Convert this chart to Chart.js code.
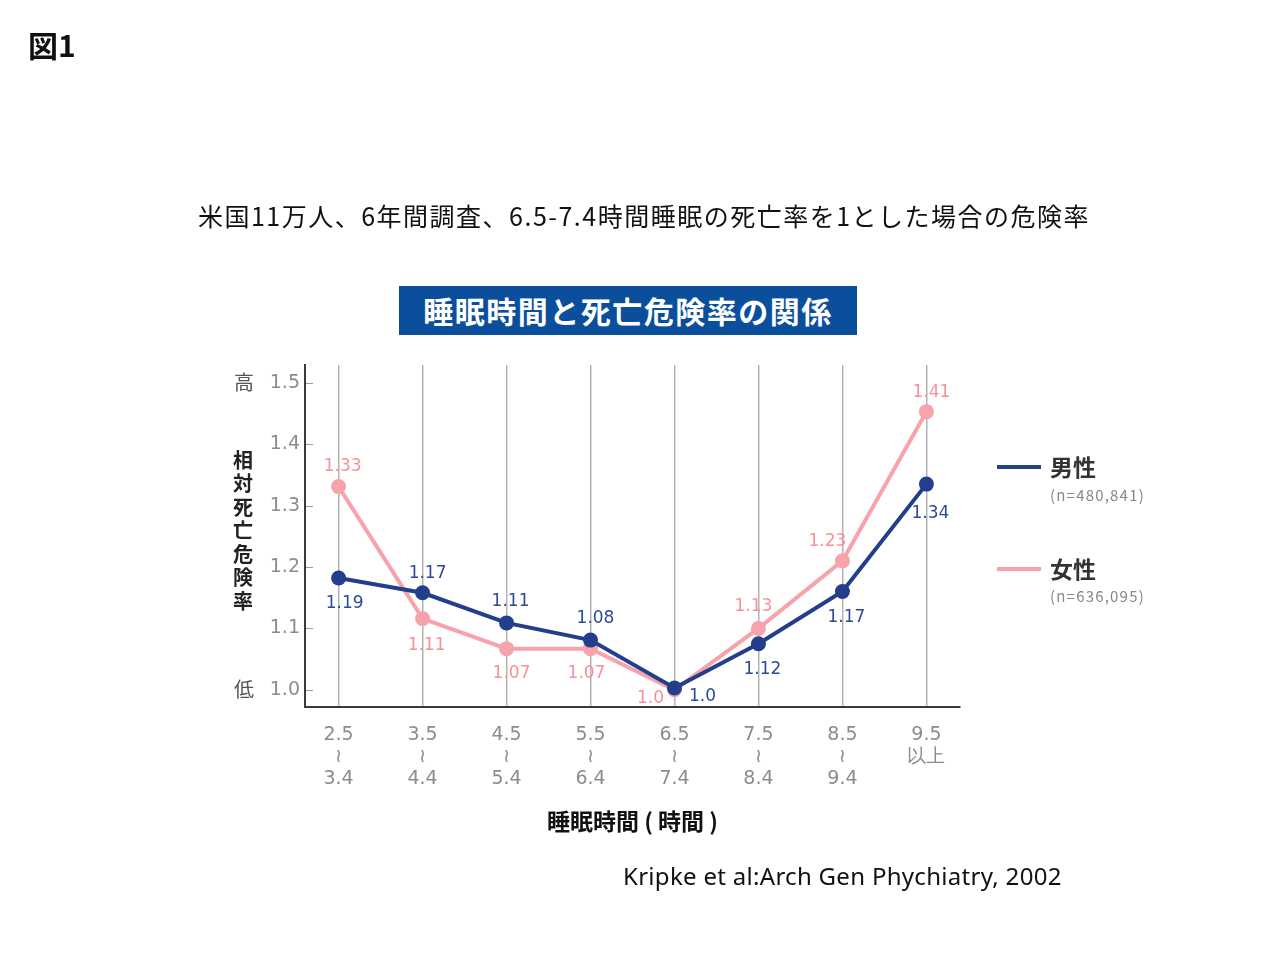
<!DOCTYPE html>
<html lang="ja">
<head>
<meta charset="utf-8">
<script src="https://cdn.jsdelivr.net/npm/chart.js@4.4.1/dist/chart.umd.min.js"></script>
<style>
  html, body { margin: 0; padding: 0; background: #fff; }
  #wrap { position: relative; width: 1280px; height: 960px; overflow: hidden; font-family: "Noto Sans CJK JP", "Noto Sans", sans-serif; }
  #c { position: absolute; left: 0; top: 0; }
  .t { position: absolute; white-space: nowrap; color: #111; }
  #fig { left: 28px; top: 22px; font-size: 30px; font-weight: 700; }
  #sub { left: 0; width: 1288px; text-align: center; top: 197px; font-size: 25px; letter-spacing: 1.5px; }
  #box { left: 399px; top: 286px; width: 458px; height: 49px; background: #0b4f9c; color: #fff; font-size: 30px; font-weight: 700; text-align: center; line-height: 49px; letter-spacing: 1.5px; }
  #src { left: 623px; top: 859px; font-size: 24px; letter-spacing: 0.3px; font-family: "Noto Sans", sans-serif; }
  .lg-line { position: absolute; height: 4px; width: 44px; left: 997px; }
  .lg-name { position: absolute; left: 1050px; font-size: 23px; font-weight: 700; color: #333; }
  .lg-n { position: absolute; left: 1050px; font-size: 15px; letter-spacing: 1.2px; color: #888; }
</style>
</head>
<body>
<div id="wrap">
  <canvas id="c" width="1280" height="960"></canvas>
  <div class="t" id="fig">図1</div>
  <div class="t" id="sub">米国11万人、6年間調査、6.5-7.4時間睡眠の死亡率を1とした場合の危険率</div>
  <div class="t" id="box">睡眠時間と死亡危険率の関係</div>
  <div class="lg-line" style="top:465px;background:#233f8c;"></div>
  <div class="t lg-name" style="top:449px;">男性</div>
  <div class="t lg-n" style="top:484px;">(n=480,841)</div>
  <div class="lg-line" style="top:567px;background:#f7a3ab;"></div>
  <div class="t lg-name" style="top:551px;">女性</div>
  <div class="t lg-n" style="top:585px;">(n=636,095)</div>
  <div class="t" id="src">Kripke et al:Arch Gen Phychiatry, 2002</div>
</div>
<script>
// ---- data ----
const categories = ["2.5\n≀\n3.4", "3.5\n≀\n4.4", "4.5\n≀\n5.4", "5.5\n≀\n6.4", "6.5\n≀\n7.4", "7.5\n≀\n8.4", "8.5\n≀\n9.4", "9.5\n以上"];
const maleValues = [1.182, 1.158, 1.109, 1.081, 1.003, 1.075, 1.160, 1.335];
const femaleValues = [1.331, 1.116, 1.067, 1.067, 1.000, 1.100, 1.210, 1.453];
const maleLabels = ["1.19", "1.17", "1.11", "1.08", "1.0", "1.12", "1.17", "1.34"];
const femaleLabels = ["1.33", "1.11", "1.07", "1.07", "1.0", "1.13", "1.23", "1.41"];
const yTicks = [1.0, 1.1, 1.2, 1.3, 1.4, 1.5];
const seriesNames = ["男性", "女性"];

// ---- styles ----
const NAVY = "#233f8c", PINK = "#f7a3ab";
const NAVY_TXT = "#2c4a96", PINK_TXT = "#f79198";
const NUM_FONT = "'DejaVu Sans'";
const maleOffsets = [[6,26],[5,-19],[4,-21],[5,-21],[28,9],[4,26],[4,26],[4,29]];
const femaleOffsets = [[4,-20],[4,27],[5,25],[-4,25],[-24,9],[-5,-22],[-15,-19],[5,-19]];

const toXY = arr => arr.map((v, i) => ({x: i, y: v}));

const decorPlugin = {
  id: 'decor',
  afterDraw(chart) {
    const ctx = chart.ctx, ys = chart.scales.y, xs = chart.scales.x;
    ctx.save();
    // inward y tick marks
    ctx.strokeStyle = "#9a9a9a"; ctx.lineWidth = 1;
    yTicks.forEach(v => {
      const py = Math.round(ys.getPixelForValue(v)) + 0.5;
      ctx.beginPath(); ctx.moveTo(xs.left + 1, py); ctx.lineTo(xs.left + 8, py); ctx.stroke();
    });
    // 高 / 低
    ctx.fillStyle = "#555"; ctx.font = "20px 'Noto Sans CJK JP'";
    ctx.textAlign = "center"; ctx.textBaseline = "middle";
    ctx.fillText("高", 244, ys.getPixelForValue(1.5));
    ctx.fillText("低", 244, ys.getPixelForValue(1.0));
    // vertical axis title
    ctx.fillStyle = "#222"; ctx.font = "bold 20px 'Noto Sans CJK JP'";
    const title = "相対死亡危険率";
    for (let i = 0; i < title.length; i++) {
      ctx.fillText(title[i], 243, 460 + i * 23.5);
    }
    // data labels
    ctx.font = "17px " + NUM_FONT;
    const drawLabels = (dsIndex, labels, offs, color) => {
      const meta = chart.getDatasetMeta(dsIndex);
      ctx.fillStyle = color;
      meta.data.forEach((pt, i) => {
        ctx.fillText(labels[i], pt.x + offs[i][0], pt.y + offs[i][1]);
      });
    };
    drawLabels(1, femaleLabels, femaleOffsets, PINK_TXT);
    drawLabels(0, maleLabels, maleOffsets, NAVY_TXT);
    ctx.restore();
  }
};

new Chart(document.getElementById('c'), {
  type: 'line',
  data: {
    datasets: [
      { label: seriesNames[0], data: toXY(maleValues), borderColor: NAVY, backgroundColor: NAVY,
        borderWidth: 4, pointRadius: 7.5, pointHoverRadius: 7.5, pointBorderWidth: 0, order: 0 },
      { label: seriesNames[1], data: toXY(femaleValues), borderColor: PINK, backgroundColor: PINK,
        borderWidth: 4, pointRadius: 7.5, pointHoverRadius: 7.5, pointBorderWidth: 0, order: 1 }
    ]
  },
  options: {
    responsive: false,
    animation: false,
    devicePixelRatio: 1,
    layout: { padding: { left: 225, right: 320, top: 365, bottom: 125 } },
    plugins: { legend: { display: false }, tooltip: { enabled: false }, title: { display: false } },
    scales: {
      x: {
        type: 'linear', min: -0.4, max: 7.4,
        afterBuildTicks: s => { s.ticks = categories.map((c, i) => ({value: i})); },
        afterFit: s => { s.height = 128; },
        grid: { display: true, drawOnChartArea: true, drawTicks: false, color: "#b3b3b3", lineWidth: 1.5 },
        border: { display: true, color: "#3a3a3a", width: 2 },
        ticks: {
          padding: 17, color: "#8c8c8c", maxRotation: 0, autoSkip: false,
          font: { family: NUM_FONT, size: 19, lineHeight: 1.15 },
          callback: v => categories[v] !== undefined ? categories[v].split("\n") : ""
        },
        title: { display: true, text: "睡眠時間 ( 時間 )", color: "#111", padding: 0,
                 font: { family: "'Noto Sans CJK JP'", size: 23, weight: 'bold' } }
      },
      y: {
        type: 'linear', min: 0.972, max: 1.529,
        afterBuildTicks: s => { s.ticks = yTicks.map(v => ({value: v})); },
        afterFit: s => { s.width = 80; },
        grid: { display: false, drawTicks: false },
        border: { display: true, color: "#3a3a3a", width: 2 },
        ticks: {
          padding: 5, color: "#8c8c8c",
          font: { family: NUM_FONT, size: 19 },
          callback: v => v.toFixed(1)
        }
      }
    }
  },
  plugins: [decorPlugin]
});
</script>
</body>
</html>
